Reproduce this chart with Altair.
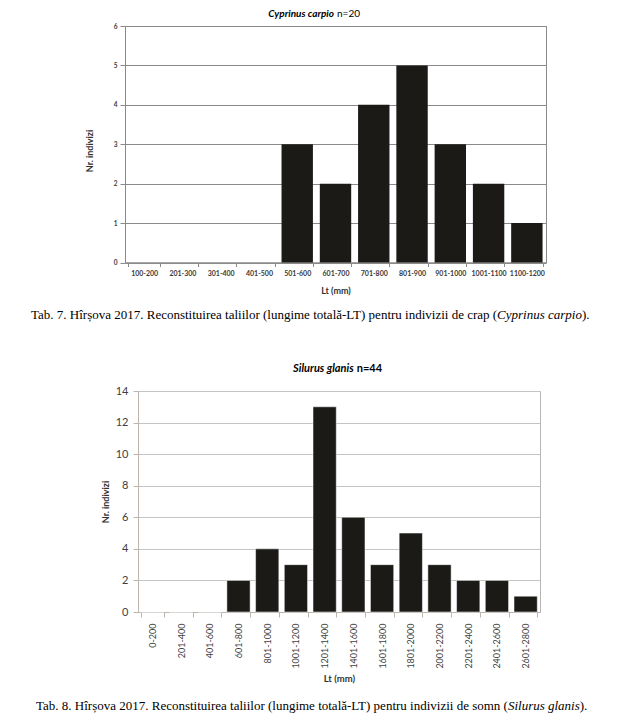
import glob
import altair as alt
import pandas as pd

# ---- data ----
cat1 = ["100-200", "201-300", "301-400", "401-500", "501-600", "601-700",
        "701-800", "801-900", "901-1000", "1001-1100", "1100-1200"]
val1 = [0, 0, 0, 0, 3, 2, 4, 5, 3, 2, 1]

cat2 = ["0-200", "201-400", "401-600", "601-800", "801-1000", "1001-1200",
        "1201-1400", "1401-1600", "1601-1800", "1801-2000", "2001-2200",
        "2201-2400", "2401-2600", "2601-2800"]
val2 = [0, 0, 0, 2, 4, 3, 13, 6, 3, 5, 3, 2, 2, 1]

title1_it = "Cyprinus carpio"
title1_rest = "n=20"
title2_it = "Silurus glanis"
title2_rest = "n=44"
cap1_pre = "Tab. 7. Hîrșova 2017. Reconstituirea taliilor (lungime totală-LT) pentru indivizii de crap ("
cap1_it = "Cyprinus carpio"
cap1_post = ")."
cap2_pre = "Tab. 8. Hîrșova 2017. Reconstituirea taliilor (lungime totală-LT) pentru indivizii de somn ("
cap2_it = "Silurus glanis"
cap2_post = ")."

df1 = pd.DataFrame({"cls": cat1, "n": val1})
df2 = pd.DataFrame({"cls": cat2, "n": val2})
one = pd.DataFrame({"k": [0]})

SANS = "Lato"
SERIF = "Liberation Serif"
BAR = "#1c1a17"
CAP_FS = 13.0


def measure(s, size, italic=False):
    name = "LiberationSerif-Italic" if italic else "LiberationSerif-Regular"
    try:
        from PIL import ImageFont
        paths = glob.glob(f"/usr/share/fonts/**/{name}.ttf", recursive=True)
        f = ImageFont.truetype(paths[0], 200)
        return f.getlength(s) * size / 200.0
    except Exception:
        return len(s) * size * 0.41


def txt(text, x, y, size, font=SANS, weight="normal", style="normal", align="left",
        color="#000000"):
    return alt.Chart(one).mark_text(
        text=text, font=font, fontSize=size, fontWeight=weight, fontStyle=style,
        align=align, baseline="middle", color=color
    ).encode(x=alt.value(x), y=alt.value(y))


def caption(pre, it, post, x0, y):
    x1 = x0 + measure(pre, CAP_FS)
    x2 = x1 + measure(it, CAP_FS, italic=True)
    return [
        txt(pre, x0, y, CAP_FS, font=SERIF),
        txt(it, x1, y, CAP_FS, font=SERIF, style="italic"),
        txt(post, x2, y, CAP_FS, font=SERIF),
    ]


def anchor(x, y1, y2):
    # white 1px strip that fixes the layout's left/top edges
    return alt.Chart(one).mark_rect(color="#ffffff").encode(
        x=alt.value(x), x2=alt.value(x + 1), y=alt.value(y1), y2=alt.value(y2))


# ---- top chart: plot area 421 x 236.5 ----
W1, H1 = 421, 236.5
bars1 = alt.Chart(df1).mark_bar(color=BAR).encode(
    x=alt.X("cls:N", sort=cat1,
            scale=alt.Scale(paddingInner=0.18, paddingOuter=0.09),
            axis=alt.Axis(title="Lt (mm)", labelAngle=0, labelFont=SANS, labelFontSize=7,
                          labelFontWeight="bold", labelColor="#3a3a3a", labelPadding=3,
                          tickBand="extent", tickSize=4, tickColor="#8a8a8a",
                          domainColor="#8a8a8a", grid=False, labelOverlap=False,
                          titleFont=SANS, titleFontSize=9, titleFontWeight="bold",
                          titleColor="#333333", titlePadding=10)),
    y=alt.Y("n:Q", scale=alt.Scale(domain=[0, 6], nice=False),
            axis=alt.Axis(title="Nr. indivizi", values=list(range(7)), labelFont=SANS,
                          labelFontSize=6.5, labelFontWeight="bold", labelColor="#3a3a3a",
                          labelPadding=3, tickSize=5, tickColor="#8a8a8a",
                          domainColor="#8a8a8a", gridColor="#8a8a8a", gridWidth=1,
                          titleFont=SANS, titleFontSize=9, titleFontWeight="bold",
                          titleColor="#333333", titleAngle=270, titleAlign="center",
                          titleBaseline="middle", titleX=-36, titleY=124.5)),
)
top = alt.layer(
    bars1,
    txt(title1_it, 209, -12.5, 10, weight="bold", style="italic", align="right"),
    txt(title1_rest, 212, -12.5, 10, align="left"),
    *caption(cap1_pre, cap1_it, cap1_post, -94, 289),
    anchor(-116, -17.5, 305.5),
).properties(width=W1, height=H1,
             view=alt.ViewBackground(stroke="#8a8a8a", strokeWidth=1))

# ---- bottom chart: plot area 402 x 221 ----
W2, H2 = 402, 221
bars2 = alt.Chart(df2).mark_bar(color=BAR, stroke="#ffffff", strokeWidth=0.5).encode(
    x=alt.X("cls:N", sort=cat2,
            scale=alt.Scale(paddingInner=0.19, paddingOuter=0.095),
            axis=alt.Axis(title="Lt (mm)", labelAngle=270, labelFont=SANS, labelFontSize=9,
                          labelColor="#404040", labelPadding=6,
                          tickBand="extent", tickSize=5, tickColor="#bdb5ae",
                          domainColor="#bdb5ae", grid=False, labelOverlap=False,
                          titleFont=SANS, titleFontSize=9.5, titleFontWeight="bold",
                          titleColor="#333333", titlePadding=5)),
    y=alt.Y("n:Q", scale=alt.Scale(domain=[0, 14], nice=False),
            axis=alt.Axis(title="Nr. indivizi", values=list(range(0, 15, 2)), labelFont=SANS,
                          labelFontSize=11, labelColor="#404040",
                          labelPadding=5, tickSize=5, tickColor="#bdb5ae",
                          domainColor="#bdb5ae", gridColor="#c4c4c4", gridWidth=1,
                          titleFont=SANS, titleFontSize=9, titleFontWeight="bold",
                          titleColor="#333333", titleAngle=270, titleAlign="center",
                          titleBaseline="middle", titleX=-33, titleY=110.5)),
)
bottom = alt.layer(
    bars2,
    txt(title2_it, 215.7, -21.7, 11, weight="bold", style="italic", align="right"),
    txt(title2_rest, 218.7, -21.7, 11, weight="bold", align="left"),
    *caption(cap2_pre, cap2_it, cap2_post, -102, 315),
    anchor(-129, -58.5, 326),
).properties(width=W2, height=H2,
             view=alt.ViewBackground(stroke="#b5b5b5", strokeWidth=1))

# invisible 13px spacer that shifts the lower plot to the right of the upper one
spacer = alt.Chart(one).mark_point(opacity=0).encode(
    x=alt.value(0), y=alt.value(0)
).properties(width=13, height=1, view=alt.ViewBackground(stroke="transparent"))

bottom_row = alt.hconcat(spacer, bottom, spacing=0, bounds="flush")

chart = alt.ConcatChart(
    concat=[top, bottom_row], columns=1, spacing=0, bounds="full",
    padding={"left": 0, "top": 0, "right": 0, "bottom": 0},
).configure(background="#ffffff")

chart.save("out.html", embed_options={"renderer": "svg", "actions": False})
